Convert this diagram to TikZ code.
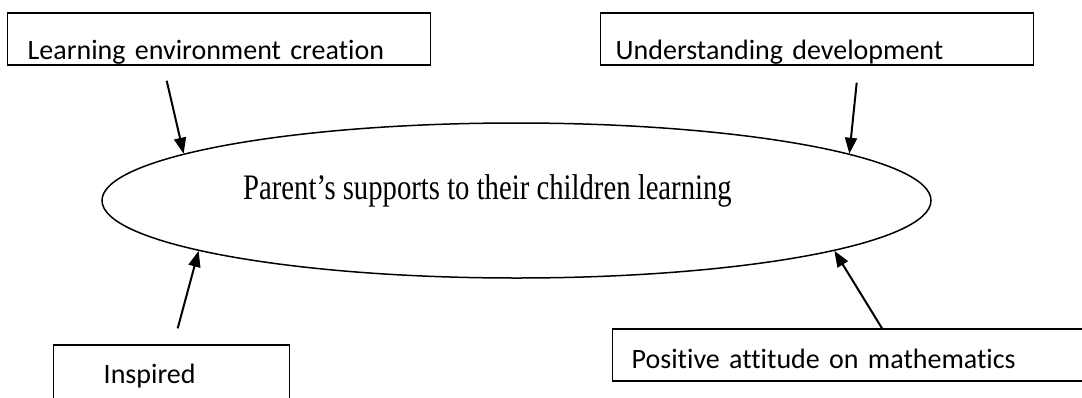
\documentclass[tikz,border=0pt]{standalone}
\usepackage{fontspec}
\setmainfont{Liberation Serif}
\newfontfamily\boxfont[Ligatures={NoCommon,NoRequired},WordSpace=0.75]{Carlito}
\usetikzlibrary{shapes.geometric,arrows.meta}

\begin{document}
\begin{tikzpicture}[
    x=1pt, y=-1pt,
    factor/.style={rectangle, draw, line width=1.4pt, anchor=base west, align=left, inner ysep=0pt, font=\boxfont\fontsize{28}{34}\selectfont},
    support/.style={ellipse, draw, line width=1.5pt, inner sep=0pt, minimum width=829pt, minimum height=155pt},
    arrow/.style={-{Triangle[length=16pt,width=12pt]}, line width=2pt}
]
\useasboundingbox (0,0) rectangle (1082,397);
\clip (0,0) rectangle (1082,397);

% Central ellipse
\node[support] (parents) at (516.5,200.5) {};
\node[anchor=base, font=\fontsize{28.7}{34}\selectfont] (parentstext) at (487.5,199) {\scalebox{1}[1.25]{Parent’s supports to their children learning}};

% Factor boxes - two above, two below
\node[factor, inner xsep=20pt, text width=383pt, text height=46pt, text depth=6pt] (environment) at (7,59) {Learning environment creation};
\node[factor, inner xsep=15pt, text width=403pt, text height=46pt, text depth=6pt] (understanding) at (600,59) {Understanding development};
\node[factor, inner xsep=50pt, text width=136pt, text height=38pt, text depth=20pt] (inspired) at (53,383) {Inspired};
\node[factor, inner xsep=19pt, text width=450pt, text height=39pt, text depth=13pt] (attitude) at (612,368) {Positive attitude on mathematics};

% Arrows into the ellipse
\draw[arrow] ([xshift=-52.5pt,yshift=-15pt]environment.south) -- (parents.172.5);
\draw[arrow] ([xshift=39.5pt,yshift=-17pt]understanding.south) -- (parents.8.9);
\draw[arrow] ([xshift=6pt,yshift=16pt]inspired.north) -- (parents.189.5);
\draw[arrow] ([xshift=270pt]attitude.north west) -- (parents.351.1);

\end{tikzpicture}
\end{document}
